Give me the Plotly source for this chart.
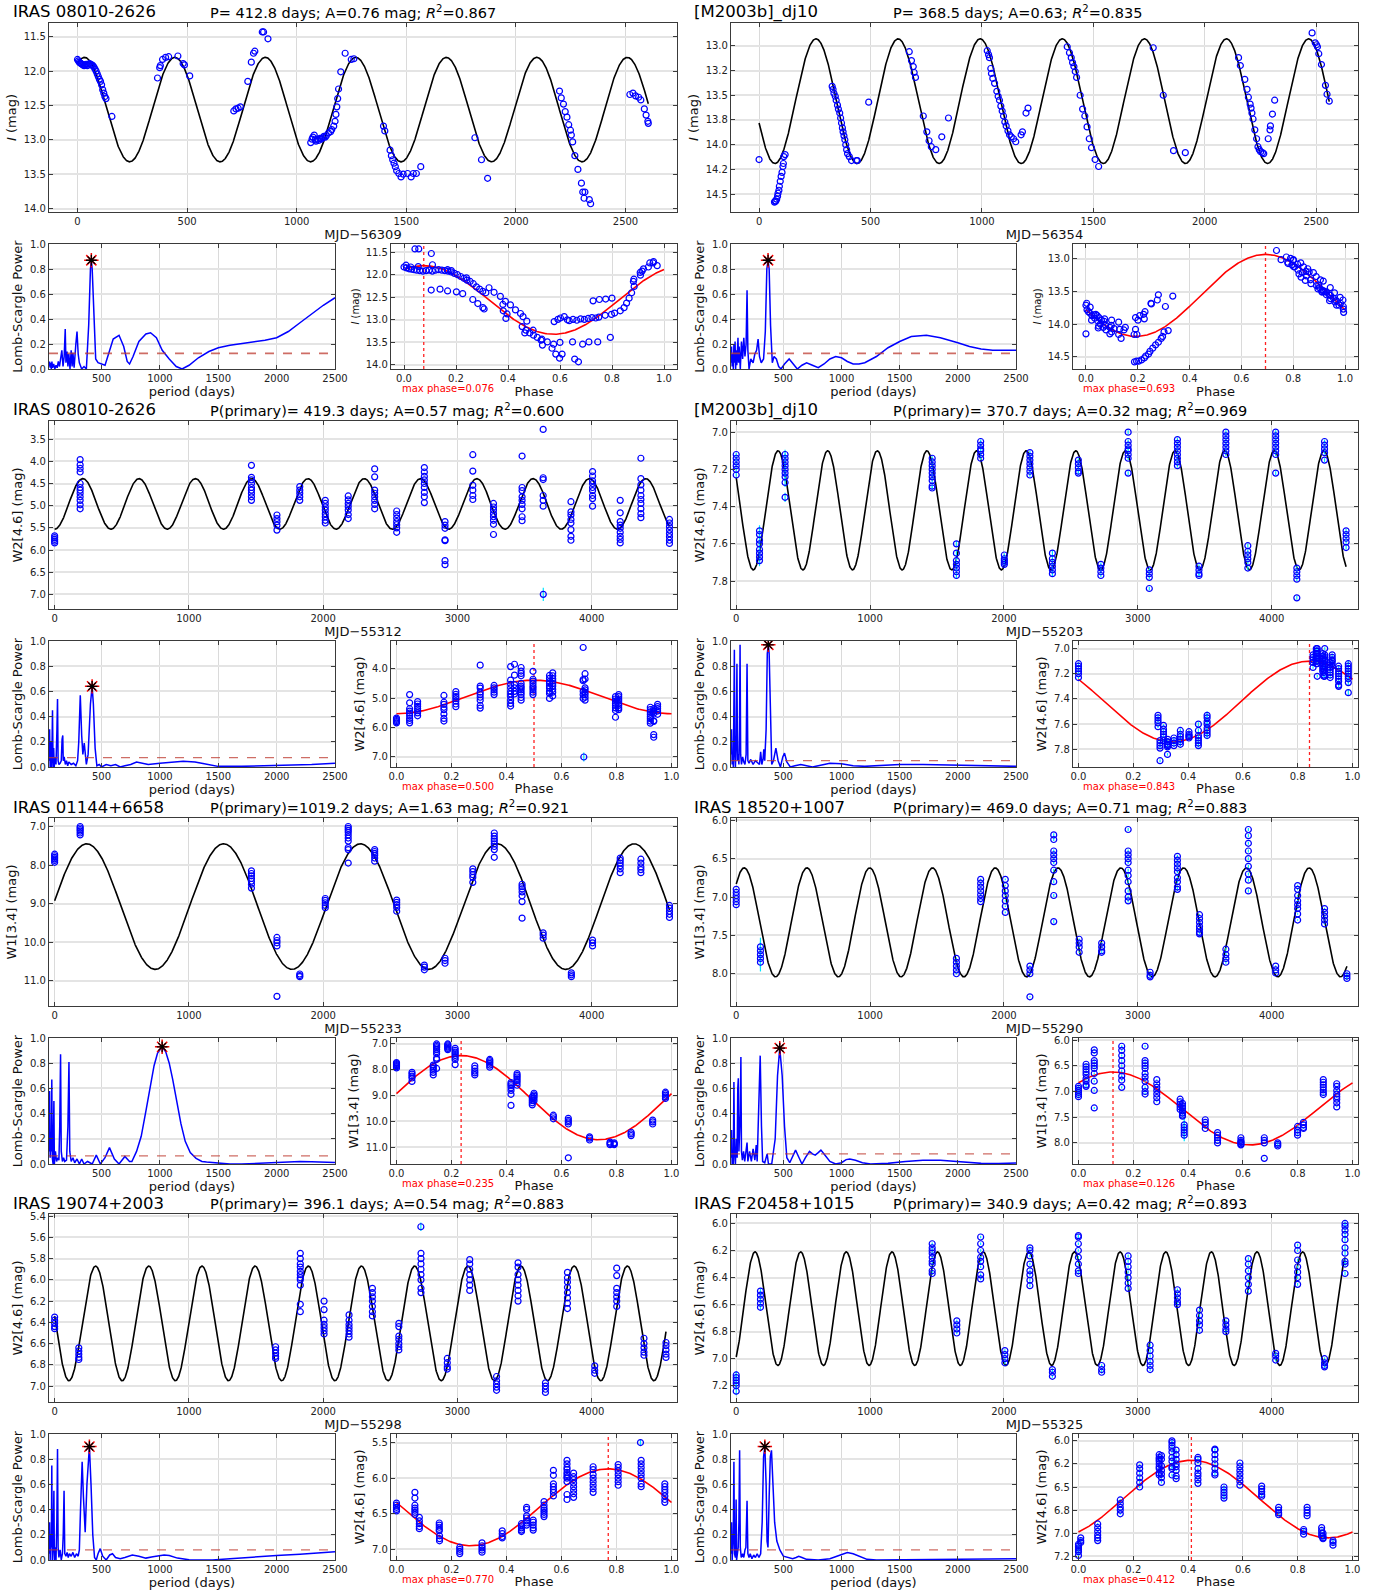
import numpy as np
import plotly.graph_objects as go

W, H = 1382, 1592
FONT = "DejaVu Sans"

# ---------------- block parameters (8 blocks: row-major, left/right) ----------------
NAMES = ["IRAS 08010-2626", "[M2003b]_dj10", "IRAS 08010-2626", "[M2003b]_dj10",
         "IRAS 01144+6658", "IRAS 18520+1007", "IRAS 19074+2003", "IRAS F20458+1015"]
PERIODS = [412.8, 368.5, 419.3, 370.7, 1019.2, 469.0, 396.1, 340.9]
AMPS = [0.76, 0.63, 0.57, 0.32, 1.63, 0.71, 0.54, 0.42]
R2 = [0.867, 0.835, 0.600, 0.969, 0.921, 0.883, 0.883, 0.893]
MAX_PHASE = [0.076, 0.693, 0.500, 0.843, 0.235, 0.126, 0.770, 0.412]
MEAN_MAG = [12.56, 13.56, 4.96, 7.42, 9.08, 7.33, 6.41, 6.63]
MJD0 = [56309, 56354, 55312, 55203, 55233, 55290, 55298, 55325]
YLABELS = ["<i>I</i> (mag)", "<i>I</i> (mag)", "W2[4.6] (mag)", "W2[4.6] (mag)",
           "W1[3.4] (mag)", "W1[3.4] (mag)", "W2[4.6] (mag)", "W2[4.6] (mag)"]
FAP_LEVEL = [0.125, 0.125, 0.075, 0.05, 0.065, 0.08, 0.08, 0.08]
PEAK_POWER = [0.87, 0.87, 0.64, 0.97, 0.93, 0.92, 0.90, 0.90]

LC_YRANGE = [[14.05, 11.30], [14.68, 12.77], [7.33, 3.09], [7.95, 6.94],
             [11.66, 6.78], [8.42, 5.97], [7.15, 5.38], [7.32, 5.93]]
LC_YTICKS = [[11.5, 12.0, 12.5, 13.0, 13.5, 14.0],
             [13.0, 13.25, 13.5, 13.75, 14.0, 14.25, 14.5],
             [3.5, 4.0, 4.5, 5.0, 5.5, 6.0, 6.5, 7.0],
             [7.0, 7.2, 7.4, 7.6, 7.8],
             [7.0, 8.0, 9.0, 10.0, 11.0],
             [6.0, 6.5, 7.0, 7.5, 8.0],
             [5.4, 5.6, 5.8, 6.0, 6.2, 6.4, 6.6, 6.8, 7.0],
             [6.0, 6.2, 6.4, 6.6, 6.8, 7.0, 7.2]]
PH_YRANGE = [[14.09, 11.32], [14.69, 12.77], [7.34, 3.06], [7.94, 6.94],
             [11.65, 6.77], [8.41, 5.96], [7.15, 5.38], [7.29, 5.926]]
PH_YTICKS = [[11.5, 12.0, 12.5, 13.0, 13.5, 14.0],
             [13.0, 13.5, 14.0, 14.5],
             [4.0, 5.0, 6.0, 7.0],
             [7.0, 7.2, 7.4, 7.6, 7.8],
             [7.0, 8.0, 9.0, 10.0, 11.0],
             [6.0, 6.5, 7.0, 7.5, 8.0],
             [5.5, 6.0, 6.5, 7.0],
             [6.0, 6.25, 6.5, 6.75, 7.0, 7.25]]
LC_XRANGE = [[-130, 2735], [-126, 2688], [-42, 4636], [-39, 4645],
             [-42, 4636], [-39, 4645], [-42, 4636], [-39, 4645]]
LC_XTICKS_SHORT = [0, 500, 1000, 1500, 2000, 2500]
LC_XTICKS_LONG = [0, 1000, 2000, 3000, 4000]
PG_XTICKS = [500, 1000, 1500, 2000, 2500]
PG_YTICKS = [0.0, 0.2, 0.4, 0.6, 0.8, 1.0]
PH_XTICKS = [0.0, 0.2, 0.4, 0.6, 0.8, 1.0]

# ---------------- light curve data ----------------
# Block 0: IRAS 08010-2626, I band (individual points)
I1_T = [0, 4, 8, 12, 16, 20, 25, 30, 35, 40, 45, 50, 55, 60, 65, 70, 75, 80, 85, 90, 95, 100, 105, 110,
        115, 120, 125, 130, 157,
        365, 375, 378, 388, 402, 416, 458, 482, 488, 512,
        713, 723, 733, 743, 777, 793, 803, 809, 843, 849, 869,
        1064, 1070, 1074, 1080, 1085, 1088, 1094, 1100, 1106, 1112, 1118, 1124, 1130, 1135, 1145, 1155,
        1160, 1169, 1175, 1179, 1183, 1187, 1191, 1201, 1221, 1249, 1261,
        1396, 1402, 1426, 1432, 1438, 1444, 1450, 1456, 1466, 1476, 1486, 1506, 1522, 1532, 1546, 1566,
        1813, 1843, 1871,
        2199, 2207, 2217, 2225, 2233, 2241, 2249, 2253, 2259, 2269, 2283, 2299, 2305, 2311, 2315, 2335, 2341,
        2520, 2534, 2546, 2560, 2570, 2586, 2594, 2602, 2604]
I1_MAG = [11.83, 11.85, 11.87, 11.88, 11.89, 11.90, 11.91, 11.92, 11.91, 11.90, 11.92, 11.90, 11.89, 11.90,
          11.91, 11.92, 11.94, 11.97, 12.00, 12.04, 12.08, 12.12, 12.15, 12.20, 12.27, 12.32, 12.37, 12.40, 12.66,
          12.10, 11.95, 11.92, 11.83, 11.80, 11.79, 11.78, 11.89, 11.91, 12.07,
          12.58, 12.55, 12.54, 12.52, 12.15, 11.87, 11.74, 11.71, 11.43, 11.43, 11.53,
          13.04, 12.99, 12.96, 12.93, 13.00, 13.02, 12.99, 13.01, 12.98, 12.99, 12.97, 12.95, 12.96, 12.94, 12.90,
          12.88, 12.85, 12.80, 12.73, 12.63, 12.52, 12.40, 12.26, 12.01, 11.74, 11.83, 11.82,
          12.80, 12.87, 13.15, 13.23, 13.29, 13.34, 13.39, 13.45, 13.49, 13.54, 13.50, 13.49, 13.54, 13.49, 13.49, 13.39,
          12.97, 13.29, 13.56,
          12.29, 12.39, 12.48, 12.59, 12.67, 12.78, 12.86, 12.93, 13.03, 13.23, 13.43, 13.63, 13.76, 13.85, 13.76, 13.87, 13.93,
          12.34, 12.32, 12.36, 12.38, 12.42, 12.55, 12.64, 12.73, 12.76]

# Block 1: [M2003b]_dj10, I band
I2_T = [0, 69, 72, 75, 79, 83, 85, 89, 91, 95, 99, 103, 107, 109, 111, 117,
        328, 332, 336, 342, 346, 352, 356, 362, 366, 370, 374, 377, 381, 385, 389, 393, 397, 405, 415, 437, 441,
        492, 674, 684, 692, 696, 702, 737, 753, 763, 773, 793, 820, 850,
        1024, 1030, 1034, 1040, 1043, 1049, 1057, 1067, 1073, 1079, 1085, 1091, 1097, 1103, 1109, 1117, 1124,
        1132, 1142, 1152, 1176, 1182, 1198, 1207,
        1383, 1393, 1401, 1407, 1413, 1419, 1425, 1441, 1452, 1462, 1472, 1482, 1492, 1508, 1524,
        1769, 1814, 1860, 1913,
        2152, 2160, 2180, 2190, 2196, 2204, 2208, 2212, 2217, 2225, 2233, 2239, 2245, 2251, 2259, 2265,
        2285, 2293, 2295, 2304, 2314,
        2482, 2496, 2502, 2506, 2512, 2524, 2542, 2549, 2559]
I2_MAG = [14.15, 14.58, 14.57, 14.57, 14.55, 14.52, 14.49, 14.46, 14.42, 14.37, 14.32, 14.28, 14.22, 14.19, 14.12, 14.10,
          13.41, 13.44, 13.48, 13.51, 13.55, 13.60, 13.64, 13.68, 13.73, 13.78, 13.83, 13.87, 13.91, 13.95, 14.00,
          14.05, 14.09, 14.12, 14.16, 14.16, 14.16,
          13.57, 13.06, 13.15, 13.21, 13.27, 13.32, 13.71, 13.87, 13.96, 14.02, 14.05, 13.92, 13.73,
          13.05, 13.09, 13.12, 13.23, 13.28, 13.33, 13.38, 13.46, 13.51, 13.55, 13.61, 13.66, 13.71, 13.77, 13.81,
          13.86, 13.90, 13.92, 13.94, 13.97, 13.90, 13.87, 13.68, 13.63,
          13.01, 13.07, 13.12, 13.17, 13.21, 13.26, 13.32, 13.50, 13.64, 13.71, 13.82, 13.94, 14.03, 14.15, 14.22,
          13.02, 13.50, 14.06, 14.08,
          13.12, 13.20, 13.34, 13.44, 13.52, 13.59, 13.63, 13.68, 13.74, 13.85, 13.94, 14.02, 14.05, 14.07, 14.08, 14.09,
          13.94, 13.85, 13.81, 13.69, 13.55,
          12.87, 12.97, 12.99, 13.01, 13.08, 13.19, 13.40, 13.49, 13.56]

# WISE epochs: epoch times, magnitudes per epoch, error (cyan bar) per epoch
W2A_T = [0, 190, 1466, 1656, 1826, 2016, 2187, 2384, 2548, 2754, 2908, 3115, 3269, 3482, 3639, 3640,
         3846, 4007, 4213, 4367, 4580]
W2A_MAGS = [[5.68, 5.72, 5.76, 5.80, 5.84],
            [3.96, 4.08, 4.16, 4.24, 4.50, 4.59, 4.65, 4.72, 4.80, 4.88, 4.98, 5.07],
            [4.09, 4.36, 4.42, 4.50, 4.59, 4.65, 4.72, 4.80, 4.88],
            [5.21, 5.29, 5.36, 5.44, 5.55],
            [4.57, 4.65, 4.72, 4.80, 4.88],
            [4.88, 4.95, 5.03, 5.10, 5.18, 5.25, 5.33, 5.39],
            [4.78, 4.87, 4.95, 5.02, 5.10, 5.20, 5.29],
            [4.17, 4.35, 4.65, 4.72, 4.80, 4.88, 4.97, 5.07],
            [5.12, 5.20, 5.28, 5.36, 5.43, 5.50, 5.60],
            [4.14, 4.24, 4.34, 4.42, 4.50, 4.59, 4.70, 4.80, 4.93],
            [5.36, 5.44, 5.51, 5.77, 5.79, 6.24, 6.33],
            [3.85, 4.22, 4.54, 4.65, 4.77, 4.86],
            [4.95, 5.03, 5.10, 5.18, 5.25, 5.33, 5.42, 5.65],
            [3.88, 4.59, 4.66, 4.80, 4.88, 4.97, 5.07, 5.25, 5.34],
            [3.28, 4.37, 4.41, 4.77, 4.88, 5.01],
            [7.00],
            [4.91, 5.14, 5.21, 5.31, 5.39, 5.54, 5.69, 5.78],
            [4.23, 4.33, 4.44, 4.50, 4.59, 4.66, 4.77, 4.84, 5.01],
            [4.88, 5.16, 5.36, 5.44, 5.51, 5.60, 5.69, 5.76, 5.84],
            [3.93, 4.39, 4.53, 4.65, 4.77, 4.86, 4.95, 5.07, 5.18, 5.27],
            [5.31, 5.39, 5.47, 5.55, 5.63, 5.70, 5.78, 5.85]]
W2A_ERR = [0, 0, 0, 0, 0, 0, 0, 0, 0, 0, 0, 0, 0, 0, 0, 0.15, 0, 0, 0, 0, 0]

W2B_T = [0, 174, 365, 1464, 1645, 1826, 2003, 2194, 2362, 2556, 2724, 2928, 3086, 3296, 3457, 3658,
         3822, 4030, 4188, 4395, 4556]
W2B_MAGS = [[7.12, 7.14, 7.16, 7.18, 7.20, 7.23],
            [7.53, 7.55, 7.58, 7.60, 7.63, 7.65, 7.67, 7.69],
            [7.12, 7.14, 7.16, 7.18, 7.20, 7.22, 7.24, 7.27, 7.35],
            [7.14, 7.16, 7.18, 7.20, 7.22, 7.24, 7.26, 7.29, 7.30],
            [7.60, 7.65, 7.69, 7.71, 7.73, 7.75, 7.77],
            [7.05, 7.07, 7.09, 7.10, 7.12, 7.14],
            [7.66, 7.68, 7.69, 7.70, 7.71],
            [7.11, 7.13, 7.15, 7.17, 7.19, 7.21, 7.23],
            [7.65, 7.68, 7.70, 7.72, 7.74, 7.76],
            [7.15, 7.17, 7.19, 7.21, 7.22],
            [7.71, 7.73, 7.75, 7.77],
            [7.00, 7.05, 7.07, 7.09, 7.10, 7.12, 7.14, 7.22],
            [7.74, 7.76, 7.78, 7.84],
            [7.04, 7.06, 7.08, 7.10, 7.12, 7.14, 7.16, 7.18],
            [7.72, 7.74, 7.76, 7.77],
            [7.00, 7.02, 7.04, 7.06, 7.08, 7.10, 7.12],
            [7.61, 7.64, 7.66, 7.68, 7.70, 7.73],
            [7.00, 7.02, 7.04, 7.06, 7.08, 7.10, 7.12, 7.22],
            [7.73, 7.75, 7.77, 7.79, 7.89],
            [7.05, 7.07, 7.09, 7.11, 7.15],
            [7.53, 7.55, 7.57, 7.59, 7.62]]
W2B_ERR = [0.01, 0.03, 0.025, 0.01, 0.015, 0.01, 0.01, 0.01, 0.015, 0.01, 0.01, 0.01, 0.01, 0.01,
           0.01, 0.01, 0.01, 0.01, 0.01, 0.01, 0.01]

W1A_T = [0, 190, 1466, 1656, 1826, 2016, 2187, 2384, 2548, 2754, 2908, 3115, 3275, 3482, 3639,
         3849, 4007, 4213, 4367, 4580]
W1A_MAGS = [[7.72, 7.76, 7.80, 7.84, 7.88, 7.93],
            [7.00, 7.04, 7.08, 7.12, 7.17, 7.22],
            [8.15, 8.22, 8.28, 8.35, 8.42, 8.50, 8.60],
            [9.88, 9.96, 10.02, 10.10, 11.41],
            [10.83, 10.87, 10.90],
            [8.87, 8.92, 8.98, 9.05, 9.11],
            [7.00, 7.05, 7.10, 7.15, 7.22, 7.30, 7.38, 7.55, 7.60, 7.95],
            [7.60, 7.65, 7.70, 7.75, 7.82, 7.90],
            [8.91, 8.97, 9.03, 9.10, 9.20],
            [10.60, 10.65, 10.72],
            [10.42, 10.48, 10.55],
            [8.10, 8.17, 8.25, 8.32, 8.45],
            [7.17, 7.25, 7.32, 7.38, 7.45, 7.52, 7.60, 7.80],
            [8.50, 8.56, 8.62, 8.70, 8.80, 8.95, 9.38],
            [9.76, 9.82, 9.90],
            [10.80, 10.85, 10.90],
            [9.95, 10.02, 10.10],
            [7.82, 7.88, 7.95, 8.02, 8.10, 8.20],
            [7.85, 7.95, 8.05, 8.12, 8.20],
            [9.05, 9.12, 9.20, 9.28, 9.36]]
W1A_ERR = [0] * 20

W1B_T = [0, 181, 1645, 1826, 2010, 2194, 2372, 2562, 2730, 2928, 3092, 3296, 3461, 3658, 3826,
         4030, 4194, 4395, 4562]
W1B_MAGS = [[6.90, 6.94, 6.98, 7.02, 7.06, 7.10],
            [7.65, 7.70, 7.75, 7.80, 7.85],
            [7.80, 7.85, 7.90, 7.95, 8.00],
            [6.77, 6.82, 6.87, 6.92, 6.97, 7.02, 7.06],
            [6.77, 6.85, 6.92, 6.98, 7.05, 7.12, 7.20],
            [7.90, 7.95, 8.00, 8.30],
            [6.19, 6.25, 6.40, 6.45, 6.50, 6.55, 6.65, 6.80, 6.98, 7.32],
            [7.55, 7.60, 7.65, 7.72],
            [7.60, 7.65, 7.70, 7.72],
            [6.12, 6.40, 6.45, 6.50, 6.55, 6.65, 6.72, 6.80, 6.92, 7.00, 7.05],
            [7.98, 8.02, 8.04],
            [6.47, 6.52, 6.57, 6.62, 6.67, 6.75, 6.80, 6.87, 6.90],
            [7.23, 7.28, 7.33, 7.38, 7.42, 7.46, 7.48],
            [7.68, 7.75, 7.80, 7.85],
            [6.12, 6.20, 6.30, 6.40, 6.50, 6.60, 6.70, 6.78, 6.92],
            [7.90, 7.95, 7.99],
            [6.85, 6.90, 6.98, 7.05, 7.10, 7.15, 7.22, 7.30],
            [7.15, 7.20, 7.25, 7.30, 7.35],
            [8.00, 8.03, 8.06]]
W1B_ERR = [0.01, 0.12, 0.01, 0.01, 0.01, 0.01, 0.02, 0.01, 0.01, 0.02, 0.01, 0.02, 0.01, 0.02, 0.02,
           0.01, 0.01, 0.01, 0.02]

W2C_T = [0, 180, 1646, 1830, 2007, 2193, 2367, 2564, 2728, 2729, 2925, 3092, 3292, 3452, 3656, 3820,
         4023, 4187, 4390, 4554]
W2C_MAGS = [[6.35, 6.38, 6.41, 6.44, 6.46],
            [6.64, 6.67, 6.70, 6.73, 6.75],
            [6.63, 6.66, 6.69, 6.72, 6.74],
            [5.75, 5.80, 5.85, 5.88, 5.92, 5.95, 5.98, 6.00, 6.05, 6.23, 6.30],
            [6.20, 6.28, 6.38, 6.42, 6.45, 6.48, 6.51],
            [6.33, 6.38, 6.42, 6.45, 6.48, 6.51, 6.54],
            [6.08, 6.12, 6.16, 6.20, 6.25, 6.30, 6.34],
            [6.41, 6.44, 6.53, 6.56, 6.60, 6.63, 6.66],
            [5.50],
            [5.75, 5.80, 5.85, 5.90, 5.95, 6.00, 6.08, 6.12],
            [6.74, 6.78, 6.82, 6.84],
            [5.81, 5.85, 5.90, 5.95, 6.00, 6.05, 6.10],
            [6.91, 6.95, 6.98, 7.01, 7.04],
            [5.84, 5.88, 5.95, 6.00, 6.05, 6.10, 6.15, 6.20],
            [6.97, 7.00, 7.03, 7.06],
            [5.93, 5.98, 6.02, 6.07, 6.12, 6.17, 6.22, 6.27],
            [6.81, 6.85, 6.88],
            [5.89, 5.96, 6.08, 6.12, 6.16, 6.20, 6.25],
            [6.55, 6.60, 6.64, 6.68, 6.71],
            [6.59, 6.62, 6.66, 6.70, 6.73]]
W2C_ERR = [0, 0, 0, 0, 0, 0, 0, 0, 0.04, 0, 0, 0, 0, 0, 0, 0, 0, 0, 0, 0]

W2D_T = [0, 181, 1464, 1648, 1826, 2007, 2194, 2362, 2556, 2730, 2928, 3092, 3296, 3461, 3658, 3826,
         4030, 4194, 4395, 4548]
W2D_MAGS = [[7.12, 7.14, 7.16, 7.18, 7.20, 7.24],
            [6.50, 6.53, 6.56, 6.59, 6.62],
            [6.15, 6.18, 6.20, 6.22, 6.25, 6.28, 6.30, 6.35, 6.37],
            [6.72, 6.75, 6.78, 6.81],
            [6.10, 6.15, 6.20, 6.25, 6.28, 6.32, 6.38, 6.41],
            [6.94, 6.97, 7.00, 7.03],
            [6.18, 6.20, 6.24, 6.30, 6.35, 6.38, 6.42, 6.46],
            [7.08, 7.10, 7.13],
            [6.09, 6.10, 6.15, 6.20, 6.25, 6.30, 6.35, 6.37],
            [7.05, 7.08, 7.10],
            [6.24, 6.28, 6.32, 6.36, 6.40, 6.44, 6.48],
            [6.90, 6.94, 6.98, 7.02, 7.05, 7.08],
            [6.49, 6.52, 6.55, 6.58, 6.60],
            [6.64, 6.68, 6.72, 6.75, 6.79],
            [6.72, 6.75, 6.78, 6.80],
            [6.26, 6.30, 6.35, 6.40, 6.45, 6.50],
            [6.96, 6.98, 7.01],
            [6.16, 6.20, 6.27, 6.32, 6.36, 6.40, 6.45],
            [7.00, 7.03, 7.05, 7.06],
            [6.00, 6.02, 6.05, 6.08, 6.12, 6.18, 6.22, 6.28, 6.30, 6.37]]
W2D_ERR = [0.03, 0.02, 0.01, 0.01, 0.01, 0.01, 0.01, 0.01, 0.01, 0.01, 0.01, 0.01, 0.01, 0.01,
           0.01, 0.01, 0.01, 0.01, 0.01, 0.015]

# ---------------- Lomb-Scargle periodograms (period [d], power) ----------------
PG0_P = [50, 55, 60, 65, 70, 75, 80, 90, 100, 110, 120, 130, 140, 150, 160, 170, 180, 189, 195, 205, 212,
         220, 230, 240, 248, 255, 265, 280, 290, 300, 310, 330, 350, 370, 390, 405, 413, 420, 435, 450, 470,
         500, 530, 560, 600, 650, 690, 720, 740, 770, 820, 880, 920, 970, 1020, 1080, 1140, 1190, 1250, 1330,
         1420, 1500, 1600, 1750, 1900, 2000, 2100, 2200, 2300, 2400, 2500]
PG0_W = [0.02, 0.06, 0.01, 0.05, 0.0, 0.06, 0.01, 0.04, 0.0, 0.03, 0.01, 0.06, 0.02, 0.08, 0.15, 0.02,
         0.10, 0.32, 0.05, 0.14, 0.02, 0.12, 0.0, 0.15, 0.02, 0.13, 0.01, 0.20, 0.30, 0.12, 0.05, 0.0,
         0.02, 0.0, 0.35, 0.80, 0.87, 0.80, 0.35, 0.08, 0.05, 0.04, 0.03, 0.12, 0.24, 0.27, 0.18, 0.06,
         0.04, 0.10, 0.22, 0.28, 0.29, 0.25, 0.15, 0.08, 0.02, 0.0, 0.03, 0.09, 0.14, 0.17, 0.19, 0.21,
         0.23, 0.25, 0.30, 0.37, 0.44, 0.51, 0.57]

PG1_P = [50, 55, 60, 65, 70, 75, 80, 85, 90, 95, 100, 110, 115, 120, 130, 140, 150, 160, 170, 180, 188,
         195, 205, 220, 240, 255, 270, 283, 295, 310, 330, 345, 358, 368.5, 378, 390, 405, 420, 440, 460,
         480, 510, 550, 590, 620, 660, 700, 750, 800, 850, 900, 950, 1000, 1050, 1100, 1150, 1200, 1300,
         1400, 1500, 1600, 1730, 1850, 2000, 2100, 2200, 2300, 2400, 2500]
PG1_W = [0.05, 0.18, 0.02, 0.12, 0.0, 0.20, 0.05, 0.22, 0.0, 0.15, 0.03, 0.25, 0.05, 0.18, 0.0, 0.22,
         0.08, 0.25, 0.10, 0.20, 0.63, 0.15, 0.0, 0.08, 0.05, 0.12, 0.15, 0.24, 0.10, 0.05, 0.08, 0.30,
         0.80, 0.87, 0.80, 0.35, 0.05, 0.10, 0.08, 0.02, 0.0, 0.04, 0.08, 0.03, 0.0, 0.03, 0.05, 0.03,
         0.01, 0.04, 0.08, 0.10, 0.09, 0.06, 0.04, 0.04, 0.05, 0.10, 0.17, 0.22, 0.26, 0.27, 0.25, 0.21,
         0.18, 0.16, 0.15, 0.15, 0.15]

PG2_P = [50, 55, 60, 65, 70, 75, 80, 85, 90, 95, 100, 110, 118, 123, 128, 135, 145, 155, 162, 168, 172,
         180, 190, 200, 210, 220, 240, 260, 280, 295, 305, 318, 330, 340, 352, 360, 370, 385, 405, 419.3,
         430, 445, 460, 480, 500, 540, 580, 620, 660, 700, 750, 800, 850, 900, 1000, 1100, 1200, 1300,
         1400, 1500, 1700, 2000, 2300, 2500]
PG2_W = [0.05, 0.30, 0.0, 0.20, 0.0, 0.10, 0.45, 0.0, 0.15, 0.0, 0.08, 0.02, 0.30, 0.54, 0.05, 0.02,
         0.03, 0.05, 0.22, 0.25, 0.05, 0.08, 0.02, 0.05, 0.01, 0.04, 0.02, 0.03, 0.01, 0.05, 0.20, 0.57,
         0.25, 0.10, 0.19, 0.08, 0.02, 0.10, 0.50, 0.64, 0.50, 0.15, 0.01, 0.02, 0.0, 0.02, 0.01, 0.02,
         0.0, 0.01, 0.02, 0.04, 0.03, 0.02, 0.03, 0.04, 0.045, 0.04, 0.02, 0.005, 0.005, 0.01, 0.02, 0.03]

PG3_P = [50, 55, 60, 65, 70, 75, 79, 83, 88, 95, 101, 106, 112, 118, 123, 128, 133, 140, 150, 160, 170,
         180, 188, 195, 205, 220, 240, 260, 280, 295, 305, 315, 325, 332, 340, 352, 362, 370.7, 378, 390,
         400, 415, 436, 455, 475, 495, 510, 530, 560, 600, 650, 700, 750, 800, 900, 1000, 1100, 1200,
         1300, 1500, 1700, 1900, 2100, 2300, 2500]
PG3_W = [0.10, 0.30, 0.02, 0.10, 0.0, 0.50, 0.93, 0.10, 0.0, 0.20, 0.82, 0.05, 0.10, 0.02, 0.30, 0.97,
         0.10, 0.02, 0.08, 0.04, 0.02, 0.10, 0.82, 0.05, 0.03, 0.06, 0.02, 0.05, 0.03, 0.02, 0.12, 0.02,
         0.06, 0.14, 0.05, 0.30, 0.90, 0.97, 0.90, 0.30, 0.02, 0.05, 0.15, 0.05, 0.0, 0.08, 0.11, 0.04,
         0.0, 0.01, 0.02, 0.01, 0.0, 0.01, 0.03, 0.025, 0.01, 0.005, 0.01, 0.02, 0.02, 0.015, 0.01,
         0.005, 0.005]

PG4_P = [50, 55, 60, 65, 70, 74, 78, 85, 92, 96, 105, 115, 125, 135, 142, 149, 155, 165, 175, 185, 200,
         212, 221, 228, 240, 255, 270, 290, 310, 330, 350, 380, 420, 455, 490, 530, 568, 610, 650, 700,
         740, 760, 800, 840, 880, 915, 950, 980, 1019.2, 1050, 1080, 1110, 1140, 1180, 1217, 1260, 1310,
         1360, 1400, 1500, 1600, 1700, 1800, 1900, 2000, 2100, 2200, 2300, 2400, 2500]
PG4_W = [0.10, 0.58, 0.05, 0.20, 0.10, 0.67, 0.05, 0.0, 0.50, 0.0, 0.10, 0.02, 0.05, 0.03, 0.30, 0.87,
         0.10, 0.02, 0.05, 0.02, 0.03, 0.30, 0.81, 0.10, 0.02, 0.05, 0.01, 0.04, 0.0, 0.04, 0.0, 0.02,
         0.0, 0.07, 0.0, 0.05, 0.13, 0.04, 0.0, 0.06, 0.02, 0.02, 0.10, 0.22, 0.42, 0.60, 0.78, 0.88,
         0.93, 0.89, 0.80, 0.67, 0.51, 0.32, 0.18, 0.09, 0.045, 0.02, 0.015, 0.005, 0.0, 0.0, 0.005,
         0.01, 0.015, 0.02, 0.02, 0.018, 0.015, 0.012]

PG5_P = [50, 55, 60, 65, 70, 75, 80, 88, 95, 103, 108, 113, 118, 124, 130, 135, 140, 148, 158, 168, 178,
         188, 195, 210, 225, 240, 255, 267, 275, 285, 301, 312, 322, 340, 350, 361, 372, 400, 430, 450,
         469, 490, 510, 530, 555, 580, 605, 630, 660, 690, 725, 750, 774, 800, 823, 850, 900, 950, 1000,
         1040, 1071, 1120, 1180, 1250, 1400, 1550, 1700, 1850, 2000, 2200, 2350, 2500]
PG5_W = [0.05, 0.27, 0.0, 0.10, 0.0, 0.65, 0.10, 0.0, 0.20, 0.05, 0.60, 0.68, 0.10, 0.20, 0.40, 0.85,
         0.10, 0.03, 0.10, 0.02, 0.12, 0.17, 0.02, 0.10, 0.02, 0.12, 0.03, 0.15, 0.02, 0.30, 0.86, 0.30,
         0.02, 0.01, 0.05, 0.08, 0.0, 0.0, 0.20, 0.70, 0.92, 0.70, 0.30, 0.05, 0.01, 0.06, 0.11, 0.06,
         0.0, 0.05, 0.10, 0.08, 0.07, 0.09, 0.11, 0.08, 0.02, 0.0, 0.01, 0.035, 0.04, 0.03, 0.01, 0.0,
         0.005, 0.02, 0.03, 0.03, 0.02, 0.005, 0.003, 0.008]

PG6_P = [50, 55, 60, 65, 70, 74, 78, 85, 92, 96, 103, 110, 117, 123, 128, 135, 145, 155, 165, 172, 179,
         185, 195, 205, 215, 225, 240, 255, 270, 285, 300, 310, 320, 334, 345, 360, 375, 396.1, 410, 425,
         440, 455, 470, 489, 510, 540, 570, 594, 620, 660, 700, 764, 820, 880, 940, 1000, 1036, 1080,
         1150, 1250, 1350, 1450, 1600, 1800, 2000, 2200, 2400, 2500]
PG6_W = [0.05, 0.30, 0.0, 0.20, 0.10, 0.75, 0.0, 0.10, 0.55, 0.0, 0.10, 0.0, 0.30, 0.88, 0.10, 0.02,
         0.08, 0.0, 0.05, 0.20, 0.55, 0.05, 0.03, 0.06, 0.02, 0.05, 0.03, 0.06, 0.02, 0.05, 0.03, 0.08,
         0.40, 0.78, 0.50, 0.22, 0.60, 0.90, 0.60, 0.20, 0.02, 0.0, 0.05, 0.09, 0.03, 0.0, 0.04, 0.05,
         0.02, 0.01, 0.02, 0.04, 0.03, 0.015, 0.025, 0.038, 0.04, 0.035, 0.015, 0.002, 0.0, 0.0, 0.01,
         0.025, 0.035, 0.045, 0.058, 0.065]

PG7_P = [50, 55, 60, 65, 70, 75, 80, 88, 94, 98, 105, 112, 118, 124, 130, 138, 150, 160, 170, 178, 188,
         195, 205, 215, 230, 245, 260, 275, 290, 305, 318, 330, 340.9, 352, 360, 368, 378, 388, 398, 410,
         425, 444, 470, 500, 538, 580, 610, 632, 660, 700, 800, 900, 960, 1010, 1050, 1100, 1150, 1220,
         1300, 1500, 2000, 2500]
PG7_W = [0.05, 0.30, 0.0, 0.10, 0.20, 0.78, 0.05, 0.02, 0.48, 0.0, 0.05, 0.10, 0.30, 0.87, 0.10, 0.02,
         0.05, 0.02, 0.08, 0.10, 0.47, 0.05, 0.02, 0.05, 0.01, 0.04, 0.02, 0.05, 0.02, 0.05, 0.30, 0.82,
         0.90, 0.60, 0.15, 0.10, 0.50, 0.82, 0.87, 0.60, 0.30, 0.15, 0.08, 0.03, 0.02, 0.01, 0.02, 0.03,
         0.02, 0.005, 0.0, 0.01, 0.03, 0.05, 0.06, 0.05, 0.03, 0.005, 0.0, 0.002, 0.005, 0.01]

# ---------------- layout geometry (pixels) ----------------
COL_LC_X = [(49, 677), (731, 1358)]
COL_PG_X = [(49, 335), (731, 1016)]
COL_PH_X = [(391, 677), (1073, 1358)]
ROW_LC_Y = [(23, 212), (421, 609), (818, 1006), (1214, 1402)]
ROW_PG_Y = [(244, 369), (641, 767), (1038, 1164), (1434, 1560)]
ROW_TITLE_Y = [12, 410, 807, 1203]
COL_NAME_X = [11, 692]
COL_PTEXT_X = [208, 891]
COL_MAXPH_X = [400, 1081]


def flatten_epochs(ts, mags, errs):
    t_out, m_out, e_out = [], [], []
    for t, ms, e in zip(ts, mags, errs):
        for m in ms:
            t_out.append(t)
            m_out.append(m)
            e_out.append(e)
    return t_out, m_out, e_out


LC_DATA = [
    (I1_T, I1_MAG, [0] * len(I1_T)),
    (I2_T, I2_MAG, [0] * len(I2_T)),
    flatten_epochs(W2A_T, W2A_MAGS, W2A_ERR),
    flatten_epochs(W2B_T, W2B_MAGS, W2B_ERR),
    flatten_epochs(W1A_T, W1A_MAGS, W1A_ERR),
    flatten_epochs(W1B_T, W1B_MAGS, W1B_ERR),
    flatten_epochs(W2C_T, W2C_MAGS, W2C_ERR),
    flatten_epochs(W2D_T, W2D_MAGS, W2D_ERR),
]
PG_DATA = [(PG0_P, PG0_W), (PG1_P, PG1_W), (PG2_P, PG2_W), (PG3_P, PG3_W),
           (PG4_P, PG4_W), (PG5_P, PG5_W), (PG6_P, PG6_W), (PG7_P, PG7_W)]

fig = go.Figure()
layout = {}
annotations = []
counter = [0]

LINE_C = "#3a3a3a"


def fmt(vals, nd=1):
    return [f"{v:.{nd}f}" for v in vals]


def add_axes(xpx, ypx, xrange, yrange, xticks, xtext, yticks, ytext, xtitle, ytitle, ytitle_size=13):
    counter[0] += 1
    n = counter[0]
    sfx = "" if n == 1 else str(n)
    common = dict(showline=True, linecolor=LINE_C, linewidth=1.2, mirror="ticks", ticks="inside",
                  ticklen=4, tickwidth=1, tickcolor=LINE_C, showgrid=True, zeroline=False,
                  tickfont=dict(size=10, color="#222", family=FONT), automargin=False)
    layout["xaxis" + sfx] = dict(common, domain=[xpx[0] / W, xpx[1] / W], range=xrange,
                                 anchor="y" + sfx, tickmode="array", tickvals=xticks, ticktext=xtext,
                                 gridcolor="#dadada", gridwidth=1,
                                 title=dict(text=xtitle, font=dict(size=13, color="#111", family=FONT),
                                            standoff=2))
    layout["yaxis" + sfx] = dict(common, domain=[1 - ypx[1] / H, 1 - ypx[0] / H], range=yrange,
                                 anchor="x" + sfx, tickmode="array", tickvals=yticks, ticktext=ytext,
                                 gridcolor="#e4e4e4", gridwidth=2,
                                 title=dict(text=ytitle, font=dict(size=ytitle_size, color="#111", family=FONT),
                                            standoff=4))
    return "x" + sfx, "y" + sfx


for b in range(8):
    row, col = b // 2, b % 2
    P, A, m0, phmax = PERIODS[b], AMPS[b], MEAN_MAG[b], MAX_PHASE[b]
    t, mag, err = LC_DATA[b]
    t = np.array(t, dtype=float)
    mag = np.array(mag, dtype=float)
    err = np.array(err, dtype=float)

    # ---- titles ----
    if b < 2:
        a_txt = f"A={A:.2f} mag" if b == 0 else f"A={A:.2f}"
        ptxt = f"P= {P:.1f} days; {a_txt}; <i>R</i><sup>2</sup>={R2[b]:.3f}"
    else:
        ptxt = f"P(primary)={P:6.1f} days; A={A:.2f} mag; <i>R</i><sup>2</sup>={R2[b]:.3f}"
    annotations.append(dict(text=NAMES[b], x=COL_NAME_X[col] / W, y=1 - ROW_TITLE_Y[row] / H,
                            xref="paper", yref="paper", xanchor="left", yanchor="middle", showarrow=False,
                            font=dict(size=16.5, color="#000", family=FONT)))
    annotations.append(dict(text=ptxt, x=COL_PTEXT_X[col] / W, y=1 - ROW_TITLE_Y[row] / H,
                            xref="paper", yref="paper", xanchor="left", yanchor="middle", showarrow=False,
                            font=dict(size=14.5, color="#000", family=FONT)))

    # ---- light curve panel ----
    xticks = LC_XTICKS_SHORT if b < 2 else LC_XTICKS_LONG
    xr, yr = add_axes(COL_LC_X[col], ROW_LC_Y[row], LC_XRANGE[b], LC_YRANGE[b],
                      xticks, [str(v) for v in xticks], LC_YTICKS[b], fmt(LC_YTICKS[b]),
                      f"MJD\u2212{MJD0[b]}", YLABELS[b])
    tm = np.linspace(t.min(), t.max(), 2500)
    model = m0 - A * np.cos(2 * np.pi * (tm / P - phmax))
    fig.add_trace(go.Scatter(x=tm, y=model, mode="lines", line=dict(color="black", width=1.6),
                             xaxis=xr, yaxis=yr, hoverinfo="skip"))
    fig.add_trace(go.Scatter(x=t, y=mag, mode="markers",
                             marker=dict(symbol="circle-open", size=6, color="blue", line=dict(width=1.2)),
                             error_y=dict(type="data", array=err, color="#00e5ff", thickness=1.2, width=0,
                                          visible=bool(err.max() > 0)),
                             xaxis=xr, yaxis=yr))

    # ---- periodogram panel ----
    pp, pw = PG_DATA[b]
    xr, yr = add_axes(COL_PG_X[col], ROW_PG_Y[row], [50, 2500], [0, 1.0],
                      PG_XTICKS, [str(v) for v in PG_XTICKS], PG_YTICKS, fmt(PG_YTICKS),
                      "period (days)", "Lomb-Scargle Power")
    fig.add_trace(go.Scatter(x=pp, y=pw, mode="lines", line=dict(color="blue", width=1.5),
                             xaxis=xr, yaxis=yr))
    fig.add_trace(go.Scatter(x=[50, 2500], y=[FAP_LEVEL[b], FAP_LEVEL[b]], mode="lines",
                             line=dict(color="rgba(190,60,50,0.75)", width=1.6 if b < 2 else 1.2, dash="dash"),
                             xaxis=xr, yaxis=yr))
    fig.add_trace(go.Scatter(x=[P], y=[PEAK_POWER[b]], mode="markers",
                             marker=dict(symbol="asterisk-open", size=12, color="red", line=dict(width=1.5, color="red")),
                             xaxis=xr, yaxis=yr))
    fig.add_trace(go.Scatter(x=[P], y=[PEAK_POWER[b]], mode="markers",
                             marker=dict(symbol="asterisk-open", size=9, color="black", line=dict(width=1.3, color="black")),
                             xaxis=xr, yaxis=yr))

    # ---- phase-folded panel ----
    phx = [-0.05, 1.05] if b < 2 else [-0.02, 1.02]
    xr, yr = add_axes(COL_PH_X[col], ROW_PG_Y[row], phx, PH_YRANGE[b],
                      PH_XTICKS, fmt(PH_XTICKS), PH_YTICKS[b], fmt(PH_YTICKS[b]),
                      "Phase", YLABELS[b], ytitle_size=10 if b < 2 else 13)
    phase = np.mod(t / P, 1.0)
    fig.add_trace(go.Scatter(x=[phmax, phmax], y=PH_YRANGE[b], mode="lines",
                             line=dict(color="#ff2020", width=1.3, dash="dot"), xaxis=xr, yaxis=yr))
    ph = np.linspace(0, 1, 400)
    fig.add_trace(go.Scatter(x=ph, y=m0 - A * np.cos(2 * np.pi * (ph - phmax)), mode="lines",
                             line=dict(color="red", width=1.6), xaxis=xr, yaxis=yr))
    fig.add_trace(go.Scatter(x=phase, y=mag, mode="markers",
                             marker=dict(symbol="circle-open", size=6, color="blue", line=dict(width=1.2)),
                             error_y=dict(type="data", array=err, color="#00e5ff", thickness=1.2, width=0,
                                          visible=bool(err.max() > 0)),
                             xaxis=xr, yaxis=yr))
    annotations.append(dict(text=f"max phase={phmax:.3f}", x=COL_MAXPH_X[col] / W,
                            y=1 - (ROW_PG_Y[row][1] + 19) / H, xref="paper", yref="paper",
                            xanchor="left", yanchor="middle", showarrow=False,
                            font=dict(size=10, color="red", family=FONT)))

layout.update(dict(width=W, height=H, margin=dict(l=0, r=0, t=0, b=0), showlegend=False,
                   paper_bgcolor="white", plot_bgcolor="white", template="none",
                   font=dict(family=FONT, color="#111"), annotations=annotations))
fig.update_layout(**layout)
fig.write_html("out.html", config={"displayModeBar": False},
               post_script="document.body.style.margin='0px';")
